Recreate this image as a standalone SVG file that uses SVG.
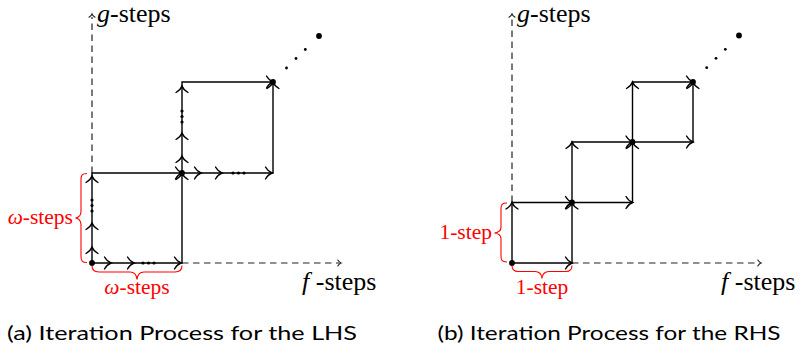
<svg xmlns="http://www.w3.org/2000/svg" xmlns:xlink="http://www.w3.org/1999/xlink" width="801" height="356" viewBox="0 0 801 356">
<style>
.ln{stroke:#000;stroke-width:1.4;fill:none}
.ax{stroke:#222;stroke-width:1.2;fill:none;stroke-dasharray:6.5 4.5}
.tp{stroke:#000;stroke-width:1.4;fill:none;stroke-linecap:round}
.atp{stroke:#222;stroke-width:1.1;fill:none;stroke-linecap:round}
.br{stroke:#ff0000;stroke-width:1.1;fill:none}
.lbl{font-family:"Liberation Serif",serif;font-size:26px;fill:#000}
.red{font-family:"Liberation Serif",serif;font-size:21.5px;fill:#ff0000}
.cap{font-family:Lato,"Noto Sans",sans-serif;font-size:20px;fill:#000}
.dt{fill:#000}
</style>
<defs>
<path id="tip" d="M -6.5,-6 C -4.8,-3.2 -2.2,-0.8 0,0 C -2.2,0.8 -4.8,3.2 -6.5,6"/>
<path id="atip" d="M -3.2,-3 C -2.2,-1.4 -0.9,-0.3 0,0 C -0.9,0.3 -2.2,1.4 -3.2,3"/>
</defs>

<!-- Left diagram -->
<g id="left-axes">
<path class="ax" d="M92,173 V17"/>
<use href="#atip" class="atp" transform="translate(92,14) rotate(-90)"/>
<path class="ax" d="M182,263 H339"/>
<use href="#atip" class="atp" transform="translate(341,263)"/>
<text class="lbl" x="97" y="22"><tspan font-style="italic">g</tspan>-steps</text>
<text class="lbl" x="302" y="290"><tspan font-style="italic">f</tspan> -steps</text>
</g>

<g id="left-connectors">
<path class="ln" d="M92,263 H182 V173 M92,263 V173 H182"/>
<path class="ln" d="M182,173 H273 V82 M182,173 V82 H273"/>
<g class="tp">
<use href="#tip" transform="translate(111,263)"/>
<use href="#tip" transform="translate(134,263)"/>
<use href="#tip" transform="translate(181,263)"/>
<use href="#tip" transform="translate(92,247) rotate(-90)"/>
<use href="#tip" transform="translate(92,223) rotate(-90)"/>
<use href="#tip" transform="translate(92,176) rotate(-90)"/>
<use href="#tip" transform="translate(182,173)"/>
<use href="#tip" transform="translate(182,173) rotate(-90)"/>
<use href="#tip" transform="translate(201,173)"/>
<use href="#tip" transform="translate(222,173)"/>
<use href="#tip" transform="translate(272,173)"/>
<use href="#tip" transform="translate(182,156) rotate(-90)"/>
<use href="#tip" transform="translate(182,133) rotate(-90)"/>
<use href="#tip" transform="translate(182,86) rotate(-90)"/>
<use href="#tip" transform="translate(273,82)"/>
<use href="#tip" transform="translate(273,82) rotate(-90)"/>
</g>
</g>

<g id="left-nodes">
<circle class="dt" cx="92" cy="263" r="2.9"/>
<circle class="dt" cx="182" cy="173" r="2.9"/>
<circle class="dt" cx="273" cy="82" r="2.9"/>
<circle class="dt" cx="143" cy="263" r="1.6"/>
<circle class="dt" cx="148.5" cy="263" r="1.6"/>
<circle class="dt" cx="154" cy="263" r="1.6"/>
<circle class="dt" cx="92" cy="200" r="1.6"/>
<circle class="dt" cx="92" cy="205.5" r="1.6"/>
<circle class="dt" cx="92" cy="211" r="1.6"/>
<circle class="dt" cx="233" cy="173" r="1.6"/>
<circle class="dt" cx="238.5" cy="173" r="1.6"/>
<circle class="dt" cx="244" cy="173" r="1.6"/>
<circle class="dt" cx="182" cy="111" r="1.6"/>
<circle class="dt" cx="182" cy="116.5" r="1.6"/>
<circle class="dt" cx="182" cy="122" r="1.6"/>
<circle class="dt" cx="286.5" cy="68" r="1.4"/>
<circle class="dt" cx="296" cy="58.5" r="1.4"/>
<circle class="dt" cx="305.3" cy="49.5" r="1.4"/>
<circle class="dt" cx="319" cy="36" r="2.9"/>
</g>

<g id="left-braces">
<path class="br" d="M87,173.5 C82,173.5 81,175 81,180 L81,211 C81,215 79,217.5 75.5,218 C79,218.5 81,221 81,225 L81,256 C81,261 82,262.5 87,262.5"/>
<text class="red" x="73" y="224" text-anchor="end"><tspan font-style="italic">ω</tspan>-steps</text>
<path class="br" d="M92,265.5 C92,270 94,272 99,272 L130,272 C134,272 136.5,274 137,279.5 C137.5,274 140,272 144,272 L175,272 C180,272 182,270 182,265.5"/>
<text class="red" x="137" y="294" text-anchor="middle"><tspan font-style="italic">ω</tspan>-steps</text>
</g>

<!-- Right diagram -->
<g id="right-axes">
<path class="ax" d="M512,202 V17"/>
<use href="#atip" class="atp" transform="translate(512,14) rotate(-90)"/>
<path class="ax" d="M572,263 H759"/>
<use href="#atip" class="atp" transform="translate(761,263)"/>
<text class="lbl" x="517" y="22"><tspan font-style="italic">g</tspan>-steps</text>
<text class="lbl" x="721" y="290"><tspan font-style="italic">f</tspan> -steps</text>
</g>

<g id="right-connectors">
<path class="ln" d="M512,263 H572 V202.5 M512,263 V202.5 H572"/>
<path class="ln" d="M572,202.5 H632.5 V142 M572,202.5 V142 H632.5"/>
<path class="ln" d="M632.5,142 H693 V82 M632.5,142 V82 H693"/>
<g class="tp">
<use href="#tip" transform="translate(572,263)"/>
<use href="#tip" transform="translate(512,202.5) rotate(-90)"/>
<use href="#tip" transform="translate(572,202.5)"/>
<use href="#tip" transform="translate(572,202.5) rotate(-90)"/>
<use href="#tip" transform="translate(632.5,202.5)"/>
<use href="#tip" transform="translate(572,142) rotate(-90)"/>
<use href="#tip" transform="translate(632.5,142)"/>
<use href="#tip" transform="translate(632.5,142) rotate(-90)"/>
<use href="#tip" transform="translate(693,142)"/>
<use href="#tip" transform="translate(632.5,82) rotate(-90)"/>
<use href="#tip" transform="translate(693,82)"/>
<use href="#tip" transform="translate(693,82) rotate(-90)"/>
</g>
</g>

<g id="right-nodes">
<circle class="dt" cx="512" cy="263" r="2.9"/>
<circle class="dt" cx="572" cy="202.5" r="2.9"/>
<circle class="dt" cx="632.5" cy="142" r="2.9"/>
<circle class="dt" cx="693" cy="82" r="2.9"/>
<circle class="dt" cx="706.7" cy="67.7" r="1.4"/>
<circle class="dt" cx="716" cy="58.3" r="1.4"/>
<circle class="dt" cx="725.3" cy="49.3" r="1.4"/>
<circle class="dt" cx="739" cy="35.5" r="2.9"/>
</g>

<g id="right-braces">
<path class="br" d="M507,203 C502,203 501,204.5 501,209 L501,227 C501,230.5 499,232.5 494.5,233 C499,233.5 501,235.5 501,239 L501,256 C501,260.5 502,262 507,262"/>
<text class="red" x="492" y="239" text-anchor="end">1-step</text>
<path class="br" d="M512,265.5 C512,270 514,271.5 518,271.5 L535,271.5 C539,271.5 541.5,273.5 542,278.5 C542.5,273.5 545,271.5 549,271.5 L566,271.5 C570,271.5 572,270 572,265.5"/>
<text class="red" x="542" y="294" text-anchor="middle">1-step</text>
</g>

<g id="captions">
<text class="cap" x="182" y="340" text-anchor="middle" textLength="350" lengthAdjust="spacingAndGlyphs">(a) Iteration Process for the LHS</text>
<text class="cap" x="609" y="340" text-anchor="middle" textLength="343" lengthAdjust="spacingAndGlyphs">(b) Iteration Process for the RHS</text>
</g>
</svg>
